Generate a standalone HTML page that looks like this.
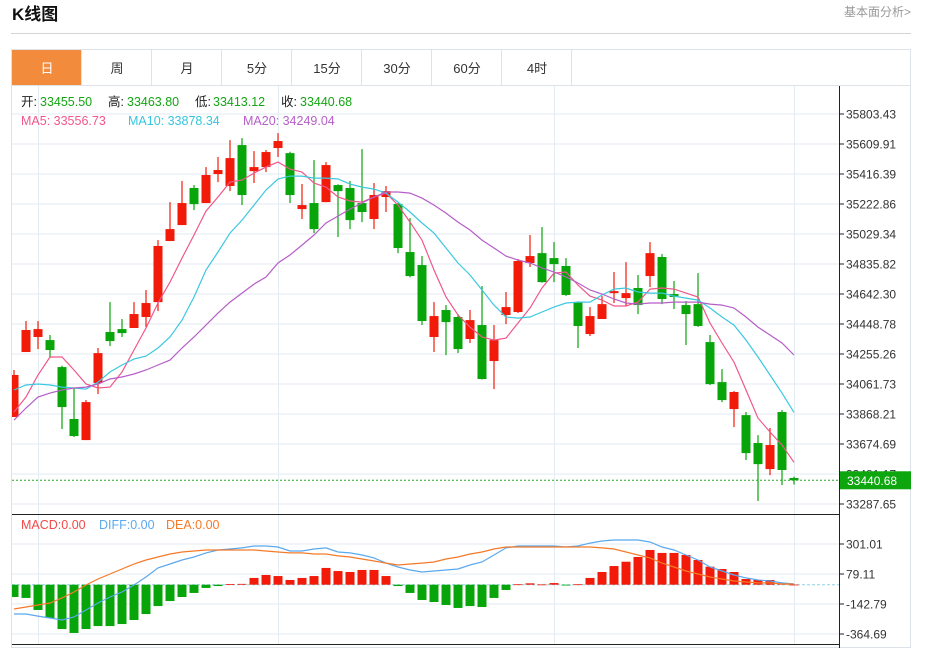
<!DOCTYPE html>
<html><head><meta charset="utf-8"><style>
html,body{margin:0;padding:0;background:#fff;width:927px;height:648px;overflow:hidden;font-family:"Liberation Sans","Noto Sans CJK SC",sans-serif;}
svg{display:block}
</style></head><body>
<svg id="chart" width="927" height="648" viewBox="0 0 927 648" xmlns="http://www.w3.org/2000/svg">
<defs><clipPath id="plotClip"><rect x="12" y="86" width="827" height="428"/></clipPath>
<clipPath id="macdClip"><rect x="12" y="515" width="827" height="129"/></clipPath></defs>
<text x="12" y="20" font-size="17" font-weight="bold" fill="#111" font-family="Liberation Sans,Noto Sans CJK SC,sans-serif">K线图</text>
<text x="911" y="16" font-size="12" fill="#999" text-anchor="end" font-family="Liberation Sans,Noto Sans CJK SC,sans-serif">基本面分析&gt;</text>
<line x1="11" y1="33.5" x2="911" y2="33.5" stroke="#d4d4d4"/>
<rect x="11.5" y="49.5" width="899" height="598" fill="none" stroke="#dde3e8"/>
<line x1="11" y1="85.5" x2="911" y2="85.5" stroke="#dde3e8"/>
<g id="tabs"></g>
<g id="grid"></g>
<g id="info"></g>
<g id="candles" clip-path="url(#plotClip)"></g>
<g id="malines" clip-path="url(#plotClip)"></g>
<g id="axis"></g>
<g id="macd"></g>
</svg>
<script>
const NS='http://www.w3.org/2000/svg';
const tabLabels=['日','周','月','5分','15分','30分','60分','4时'];
const priceTicks=[35803.43,35609.91,35416.39,35222.86,35029.34,34835.82,34642.30,34448.78,34255.26,34061.73,33868.21,33674.69,33481.17,33287.65];
const macdTicks=[301.01,79.11,-142.79,-364.69];
const openP=[33849,34268,34365,34345,34171,33836,33700,34068,34397,34416,34423,34494,34590,34984,35087,35326,35229,35416,35339,35603,35435,35461,35584,35551,35190,35229,35235,35345,35326,35229,35126,35268,35223,34913,34829,34365,34539,34494,34352,34442,34210,34507,34526,34842,34906,34874,34823,34590,34384,34481,34648,34616,34681,34758,34881,34642,34571,34577,34332,34074,33900,33861,33681,33513,33881,33455.50];
const closeP=[34120,34410,34416,34281,33913,33726,33945,34261,34339,34390,34513,34584,34952,35061,35229,35222,35410,35442,35519,35281,35461,35558,35629,35281,35216,35061,35474,35306,35119,35171,35281,35306,34939,34758,34468,34500,34461,34287,34474,34094,34345,34558,34855,34887,34719,34835,34636,34436,34500,34577,34661,34648,34571,34906,34610,34623,34513,34436,34061,33958,34010,33616,33545,33668,33507,33440.68];
const highP=[34152,34468,34468,34378,34180,34036,33958,34294,34590,34481,34590,34668,34990,35235,35371,35345,35461,35526,35635,35648,35564,35571,35680,35560,35352,35506,35493,35350,35371,35577,35358,35339,35230,35132,34887,34590,34571,34513,34539,34694,34442,34655,34868,35023,35074,34977,34874,34595,34558,34629,34784,34848,34765,34977,34900,34726,34597,34777,34378,34158,34016,33881,33732,33778,33894,33463.80];
const lowP=[33849,34268,34287,34229,33771,33720,33700,33997,34307,34365,34423,34429,34532,34984,35087,35184,35229,35364,35306,35216,35358,35429,35526,35229,35126,35035,35235,35010,35061,35106,35061,35171,34906,34750,34442,34268,34248,34261,34326,34090,34029,34448,34520,34816,34715,34719,34630,34294,34371,34481,34584,34565,34513,34687,34577,34545,34313,34430,34055,33945,33784,33571,33307,33474,33410,33413.12];
const ma5=[33881,33978,34120,34236,34236,34152,34062,34036,34042,34139,34281,34423,34584,34719,34874,35023,35177,35268,35364,35377,35422,35461,35493,35448,35429,35358,35332,35268,35242,35235,35268,35293,35216,35106,34990,34797,34623,34507,34429,34365,34345,34358,34455,34552,34681,34777,34784,34700,34629,34603,34565,34565,34590,34674,34681,34674,34648,34623,34455,34326,34203,34023,33842,33752,33668,33556.73];
const ma10=[34023,34055,34062,34055,34042,34036,34029,34074,34139,34184,34223,34242,34294,34365,34474,34623,34797,34913,35035,35119,35216,35313,35384,35403,35403,35390,35390,35384,35351,35332,35319,35293,35235,35171,35100,35035,34939,34842,34765,34668,34571,34494,34487,34494,34526,34558,34584,34590,34590,34636,34674,34681,34655,34648,34648,34629,34616,34603,34552,34494,34442,34345,34236,34120,34003,33878.34];
const ma20=[33829,33907,33978,34003,34023,34036,34042,34062,34094,34107,34126,34152,34184,34216,34294,34365,34442,34519,34590,34648,34706,34752,34842,34894,34958,35023,35100,35145,35190,35229,35268,35300,35300,35293,35261,35216,35164,35106,35055,34990,34939,34887,34861,34842,34810,34784,34752,34713,34668,34642,34610,34584,34577,34584,34584,34590,34590,34590,34577,34571,34552,34494,34429,34378,34326,34249.04];
const macdHist=[-91,-98,-187,-246,-328,-357,-328,-306,-306,-291,-261,-217,-158,-121,-91,-61,-24,-10,5,6,50,72,64,35,50,64,124,101,94,109,109,64,-10,-61,-113,-128,-150,-172,-158,-165,-98,-39,3,10,2,12,-6,3,50,94,138,170,205,257,235,235,220,183,133,116,94,42,35,35,7,1];
const diffV=[-217,-217,-232,-246,-261,-239,-187,-135,-91,-54,-2,57,124,153,183,205,235,257,264,272,286,286,279,249,249,264,272,242,235,220,198,160,131,109,94,101,109,116,146,168,220,272,286,286,286,286,279,286,308,323,331,331,331,316,279,257,220,183,131,101,72,50,35,27,13,5];
const deaV=[-180,-165,-150,-135,-98,-54,-2,42,79,116,153,183,205,227,242,249,257,257,257,257,257,249,242,235,235,227,227,213,205,190,175,160,146,153,160,168,190,205,227,242,264,279,279,279,279,279,279,279,279,272,264,242,220,198,160,131,101,79,57,42,27,20,13,13,5,5];

const UP='#f21a08',DN='#08a50a';
const xC=i=>14+12*i;
const yP=p=>114+(35803.43-p)/193.52*30;
const yM=v=>584.7-v/7.397;
function mk(tag,attrs,parent){const e=document.createElementNS(NS,tag);for(const k in attrs)e.setAttribute(k,attrs[k]);parent.appendChild(e);return e;}
const g=id=>document.getElementById(id);

// tabs
const tabs=g('tabs');
tabLabels.forEach((t,i)=>{
  const x=12+70*i;
  const r=mk('rect',{x:x,y:50,width:70,height:35,fill:i===0?'#f28b3c':'#fff'},tabs);
  
  
  const tx=mk('text',{x:x+35,y:73,'font-size':13,'text-anchor':'middle',fill:i===0?'#fff':'#333','font-family':'Liberation Sans,Noto Sans CJK SC,sans-serif'},tabs);
  tx.textContent=t;
  
  
});
tabLabels.forEach((t,i)=>{
  const x=12+70*i;
  mk('line',{x1:x+69.5,y1:50,x2:x+69.5,y2:85,stroke:'#dde3e8'},tabs);
});

// grid
const grid=g('grid');
priceTicks.forEach(p=>{const l=mk('line',{x1:12,y1:yP(p),x2:839,y2:yP(p),stroke:'#e3ebf3'},grid);

});
macdTicks.forEach(v=>{const l=mk('line',{x1:12,y1:yM(v),x2:839,y2:yM(v),stroke:'#e3ebf3'},grid);

});
[38,278,554,794].forEach(x=>{mk('line',{x1:x+0.5,y1:86,x2:x+0.5,y2:644,stroke:'#e3ebf3'},grid);});
mk('line',{x1:12,y1:514.5,x2:839,y2:514.5,stroke:'#222'},grid);
mk('line',{x1:12,y1:644.5,x2:839,y2:644.5,stroke:'#222'},grid);
mk('line',{x1:12,y1:yM(0),x2:839,y2:yM(0),stroke:'#8fd3e8','stroke-dasharray':'3,2'},grid);

// info text
const info=g('info');
function txt(x,y,s,fill,name,size){const t=mk('text',{x:x,y:y,'font-size':size||12.5,fill:fill,'font-family':'Liberation Sans,Noto Sans CJK SC,sans-serif'},info);t.textContent=s;

return t;}
const GRN='#13a513';
txt(21,106,'开:','#222','open-label');txt(40,106,'33455.50',GRN,'open-value');
txt(108,106,'高:','#222','high-label');txt(127,106,'33463.80',GRN,'high-value');
txt(195,106,'低:','#222','low-label');txt(213,106,'33413.12',GRN,'low-value');
txt(281,106,'收:','#222','close-label');txt(300,106,'33440.68',GRN,'close-value');
txt(21,125,'MA5: 33556.73','#f0578a','ma5-legend');
txt(128,125,'MA10: 33878.34','#35c6de','ma10-legend');
txt(243,125,'MA20: 34249.04','#b65ec8','ma20-legend');
txt(21,529,'MACD:0.00','#f04a4a','macd-legend');
txt(99,529,'DIFF:0.00','#5aa9ee','diff-legend');
txt(166,529,'DEA:0.00','#f57a28','dea-legend');

// candles
const cg=g('candles');
for(let i=0;i<openP.length;i++){
  const up=closeP[i]>=openP[i];const col=up?UP:DN;const x=xC(i);
  const w=mk('line',{x1:x,y1:yP(highP[i]),x2:x,y2:yP(lowP[i]),stroke:col,'stroke-width':1.2},cg);
  
  
  const top=yP(Math.max(openP[i],closeP[i])),bot=yP(Math.min(openP[i],closeP[i]));
  const b=mk('rect',{x:x-4.5,y:top,width:9,height:Math.max(1.5,bot-top),fill:col},cg);
  
  
}
// MA lines
const mg=g('malines');
[[ma5,'#f0578a','ma5-line'],[ma10,'#3cc8e0','ma10-line'],[ma20,'#b65ec8','ma20-line']].forEach(([arr,c,n])=>{
  const d=arr.map((v,i)=>(i?'L':'M')+xC(i)+','+yP(v).toFixed(1)).join('');
  const p=mk('path',{d:d,fill:'none',stroke:c,'stroke-width':1.2},mg);
  
  
});
const lastY=yP(closeP[closeP.length-1]);
const dl=mk('line',{x1:12,y1:lastY,x2:839,y2:lastY,stroke:'#2aa52a','stroke-dasharray':'2,2'},mg);



// axis
const ax=g('axis');
mk('line',{x1:839.5,y1:86,x2:839.5,y2:648,stroke:'#222'},ax);
priceTicks.forEach(p=>{const y=yP(p);mk('line',{x1:839,y1:y,x2:844,y2:y,stroke:'#222'},ax);
const t=mk('text',{x:846,y:y+4.5,'font-size':12,fill:'#333'},ax);t.textContent=p.toFixed(2);

});
macdTicks.forEach(v=>{const y=yM(v);mk('line',{x1:839,y1:y,x2:844,y2:y,stroke:'#222'},ax);
const t=mk('text',{x:846,y:y+4.5,'font-size':12,fill:'#333'},ax);t.textContent=v.toFixed(2);

});
const tag=mk('rect',{x:840,y:lastY-9,width:71,height:18,fill:'#0ea60e'},ax);


const tt=mk('text',{x:847,y:lastY+4.5,'font-size':12,fill:'#fff'},ax);tt.textContent=closeP[closeP.length-1].toFixed(2);



// MACD
const mc=g('macd');
const mcc=mk('g',{'clip-path':'url(#macdClip)'},mc);
const z=yM(0);
macdHist.forEach((v,i)=>{const y=yM(v);
  const r=mk('rect',{x:xC(i)-4.5,y:Math.min(y,z),width:9,height:Math.max(0.8,Math.abs(y-z)),fill:v>=0?UP:DN},mcc);
  
  });
[[diffV,'#5aa9ee','diff-line'],[deaV,'#f57a28','dea-line']].forEach(([arr,c,n])=>{
  const d=arr.map((v,i)=>(i?'L':'M')+xC(i)+','+yM(v).toFixed(1)).join('');
  const p=mk('path',{d:d,fill:'none',stroke:c,'stroke-width':1.2},mcc);
  
  
});
</script>
</body></html>
